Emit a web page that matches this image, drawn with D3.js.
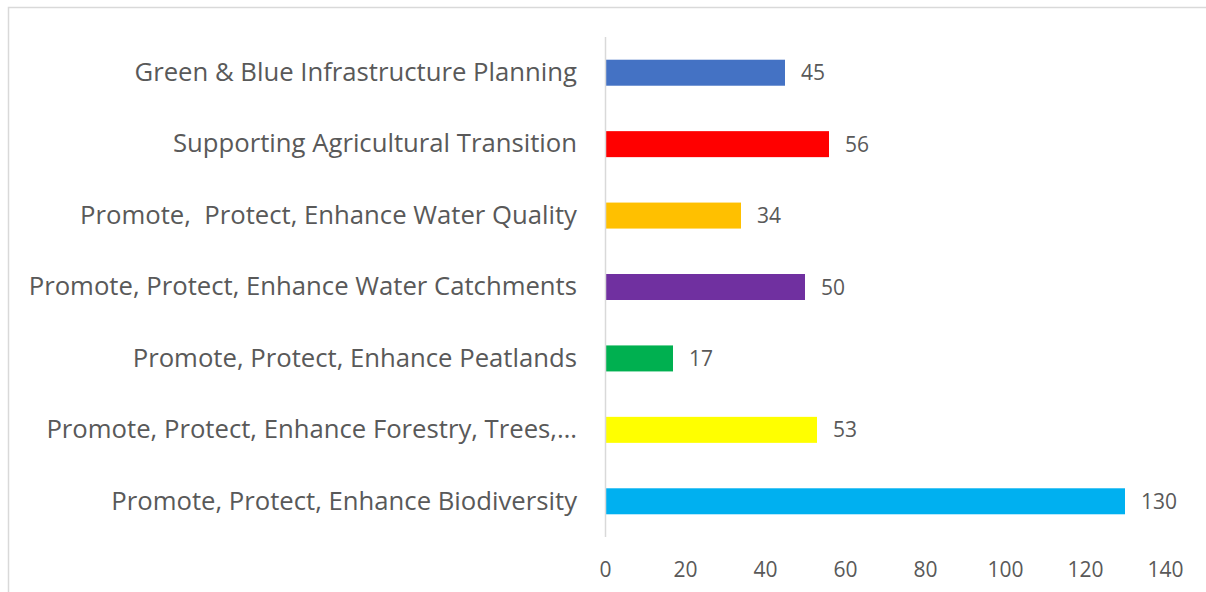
<!DOCTYPE html>
<html>
<head>
<meta charset="utf-8">
<script src="https://cdn.jsdelivr.net/npm/d3@7"></script>
<style>
  body { margin: 0; background: #fff; }
  svg text { font-family: "Open Sans", "Noto Sans", sans-serif; fill: #595959; white-space: pre; }
  .axis path, .axis line { stroke: none; }
</style>
</head>
<body>
<div id="chart"></div>
<script>
// categorias de cima para baixo
var categories = [
  "Green & Blue Infrastructure Planning",
  "Supporting Agricultural Transition",
  "Promote,  Protect, Enhance Water Quality",
  "Promote, Protect, Enhance Water Catchments",
  "Promote, Protect, Enhance Peatlands",
  "Promote, Protect, Enhance Forestry, Trees,\u2026",
  "Promote, Protect, Enhance Biodiversity"
];
var values = [45, 56, 34, 50, 17, 53, 130];
var colors = ["#4472c4", "#ff0000", "#ffc000", "#7030a0", "#00b050", "#ffff00", "#00b0f0"];
var xTicks = [0, 20, 40, 60, 80, 100, 120, 140];

var W = 1206, H = 592;
var margin = {top: 37, right: 41, bottom: 55, left: 605};
var width = W - margin.left - margin.right;
var height = H - margin.top - margin.bottom;

var svg = d3.select("#chart").append("svg")
    .attr("width", W)
    .attr("height", H);

// borda do gráfico
svg.append("rect")
    .attr("x", 8.5).attr("y", 7.5)
    .attr("width", W).attr("height", H)
    .attr("fill", "none")
    .attr("stroke", "#d9d9d9")
    .attr("stroke-width", 1.5);

var g = svg.append("g")
    .attr("transform", "translate(" + margin.left + "," + margin.top + ")");

var x = d3.scaleLinear().domain([0, 140]).range([0, width]);
var y = d3.scaleBand().domain(categories).range([0, height]).paddingInner(0.636).paddingOuter(0.318);

var data = categories.map(function(c, i) { return {key: c, value: values[i], color: colors[i]}; });

g.selectAll(".bar")
  .data(data)
  .enter().append("rect")
    .attr("class", "bar")
    .attr("x", 0)
    .attr("y", function(d) { return y(d.key); })
    .attr("width", function(d) { return x(d.value); })
    .attr("height", y.bandwidth())
    .attr("fill", function(d) { return d.color; });

g.selectAll(".val")
  .data(data)
  .enter().append("text")
    .attr("class", "val")
    .attr("x", function(d) { return x(d.value) + 16; })
    .attr("y", function(d) { return y(d.key) + y.bandwidth() / 2; })
    .attr("dy", "0.36em")
    .style("font-size", "21px")
    .text(function(d) { return d.value; });

// eixo y (linha vertical)
g.append("line")
    .attr("x1", 0.5).attr("x2", 0.5)
    .attr("y1", 0).attr("y2", height)
    .attr("stroke", "#d9d9d9")
    .attr("stroke-width", 1.5);

var yAxis = d3.axisLeft(y).tickSize(0).tickPadding(28);
g.append("g").attr("class", "axis y").call(yAxis)
  .selectAll("text")
    .style("font-size", "25.7px")
    .attr("fill", null);

var xAxis = d3.axisBottom(x).tickValues(xTicks).tickSize(0).tickPadding(25);
g.append("g").attr("class", "axis x")
    .attr("transform", "translate(0," + height + ")")
    .call(xAxis)
  .selectAll("text")
    .style("font-size", "21px")
    .attr("fill", null);
g.selectAll(".axis").attr("font-family", null).attr("font-size", null);
</script>
</body>
</html>
